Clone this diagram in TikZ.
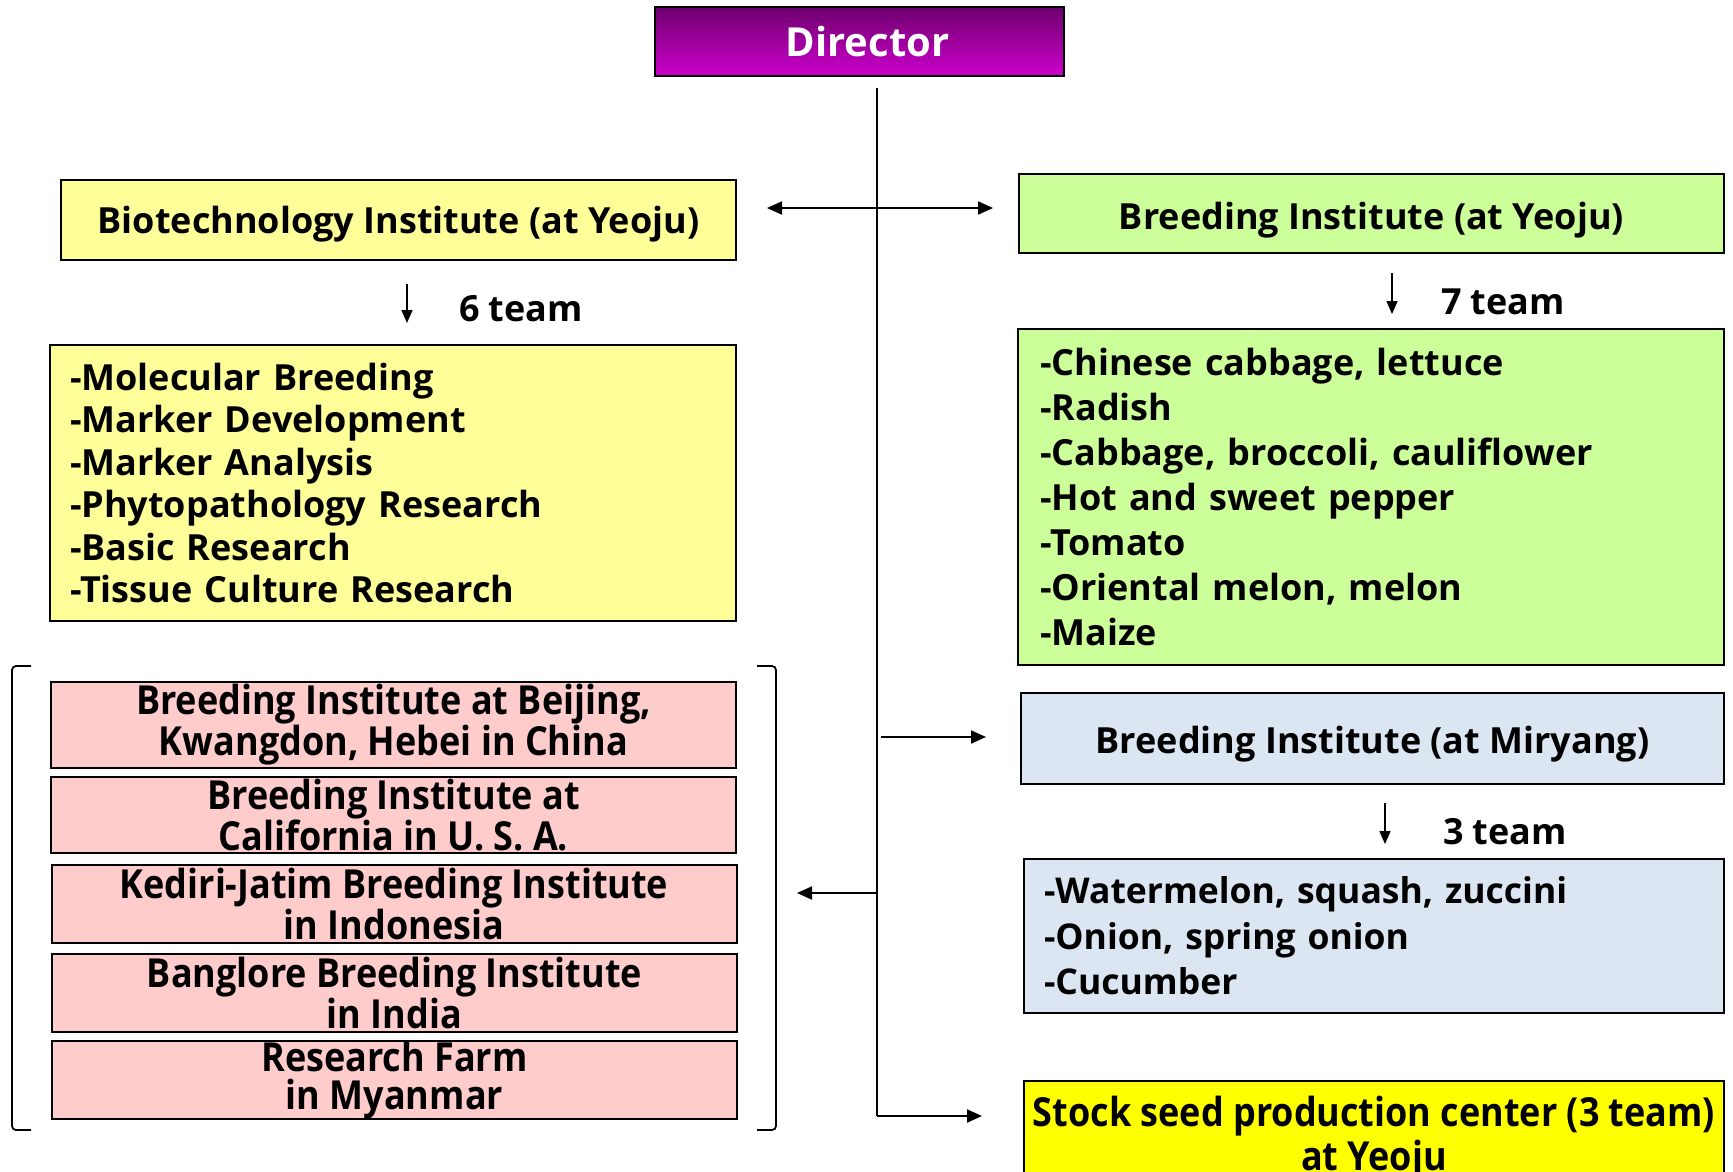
\documentclass[tikz,border=0pt]{standalone}
\usepackage{fontspec}
\setmainfont{Open Sans}[BoldFont={Open Sans Bold}]
\newfontfamily\condfont{Open Sans}[BoldFont={Open Sans Bold}, FakeStretch=0.9]
\usetikzlibrary{arrows.meta}
\definecolor{dirtop}{HTML}{6E006E}
\definecolor{dirbot}{HTML}{CC00CC}
\definecolor{yellowbox}{HTML}{FFFF99}
\definecolor{greenbox}{HTML}{CCFF99}
\definecolor{pinkbox}{HTML}{FFCCCC}
\definecolor{bluebox}{HTML}{DCE6F2}
\definecolor{stockbox}{HTML}{FFFF00}
\newcommand{\lowertext}[2]{\raisebox{0pt}[\dimexpr\height+#1pt\relax]{#2}}
\begin{document}
\begin{tikzpicture}[x=1pt,y=-1pt,
  box/.style={draw=black, line width=2pt, inner sep=0pt, anchor=center},
  title/.style={box, font=\fontsize{36}{42}\selectfont\bfseries},
  listbox/.style={box, align=left, font=\fontsize{36}{42.5}\selectfont\bfseries},
  pink/.style={box, fill=pinkbox, minimum width=685, align=center, font=\condfont\fontsize{40}{37.5}\selectfont\bfseries},
  team/.style={font=\fontsize{36}{42}\selectfont\bfseries, inner sep=0pt},
  conn/.style={line width=2pt, -{Triangle[length=15pt,width=13pt]}},
  small/.style={line width=1.6pt, -{Triangle[length=13pt,width=11pt]}},
  brk/.style={line width=1.8pt, rounded corners=4pt}
]
\useasboundingbox (0,0) rectangle (1733,1171);
\clip (0,0) rectangle (1733,1171);

% Director
\node[box, top color=dirtop, bottom color=dirbot, minimum width=409, minimum height=69,
      text=white, font=\fontsize{40}{44}\selectfont\bfseries] (dir) at (859.5,41.5) {\hspace{16pt}Director};

% Left column
\node[title, fill=yellowbox, minimum width=675, minimum height=80] (bio) at (398.5,220) {\lowertext{9}{Biotechnology Institute (at Yeoju)}};
\node[listbox, fill=yellowbox, minimum width=686, minimum height=276, text width=646] (biolist) at (393,483)
  {-Molecular Breeding\\-Marker Development\\-Marker Analysis\\-Phytopathology Research\\-Basic Research\\-Tissue Culture Research};
\coordinate (a6s) at (407,284);
\coordinate (a6e) at (407,323);
\draw[small] (a6s) -- (a6e);
\node[team] (t6) at (521,309) {6 team};

\node[pink, minimum height=86] (p1) at (393.5,725) {Breeding Institute at Beijing,\\ Kwangdon, Hebei in China};
\node[pink, minimum height=76] (p2) at (393.5,815) {Breeding Institute at\\California in U. S. A.};
\node[pink, minimum height=78] (p3) at (394,904) {Kediri-Jatim Breeding Institute\\in Indonesia};
\node[pink, minimum height=78] (p4) at (394.5,993) {Banglore Breeding Institute\\in India};
\node[pink, minimum height=76] (p5) at (394.5,1080) {Research Farm\\in Myanmar};

% brackets
\coordinate (lb1) at (31,666);
\coordinate (lb2) at (12,666);
\coordinate (lb3) at (12,1130);
\coordinate (lb4) at (31,1130);
\draw[brk] (lb1) -- (lb2) -- (lb3) -- (lb4);
\coordinate (rb1) at (757,666);
\coordinate (rb2) at (776,666);
\coordinate (rb3) at (776,1130);
\coordinate (rb4) at (757,1130);
\draw[brk] (rb1) -- (rb2) -- (rb3) -- (rb4);

% Right column
\node[title, fill=greenbox, minimum width=705, minimum height=79] (byeo) at (1371.5,213.5) {\lowertext{13}{Breeding Institute (at Yeoju)}};
\node[listbox, fill=greenbox, minimum width=706, minimum height=336, text width=662,
      font=\fontsize{36}{45}\selectfont\bfseries] (greenlist) at (1371,497)
  {-Chinese cabbage, lettuce\\-Radish\\-Cabbage, broccoli, cauliflower\\-Hot and sweet pepper\\-Tomato\\-Oriental melon, melon\\-Maize};
\coordinate (a7s) at (1392,273);
\coordinate (a7e) at (1392,314);
\draw[small] (a7s) -- (a7e);
\node[team] (t7) at (1503,302) {7 team};

\node[title, fill=bluebox, minimum width=703, minimum height=91] (bmir) at (1372.5,738.5) {\lowertext{11}{Breeding Institute (at Miryang)}};
\coordinate (a3s) at (1385,803);
\coordinate (a3e) at (1385,844);
\draw[small] (a3s) -- (a3e);
\node[team] (t3) at (1505,832) {3 team};
\node[listbox, fill=bluebox, minimum width=700, minimum height=154, text width=660,
      font=\fontsize{35.5}{45.5}\selectfont\bfseries] (bluelist) at (1374,936)
  {-Watermelon, squash, zuccini\\-Onion, spring onion\\-Cucumber};

\node[box, fill=stockbox, minimum width=700, minimum height=114, align=center,
      font=\condfont\fontsize{40}{44}\selectfont\bfseries] (stock) at (1374,1138)
  {Stock seed production center (3 team)\\at Yeoju};

% Trunk and connectors
\coordinate (trunktop) at (877,88);
\coordinate (trunkbot) at (877,1116);
\draw[line width=2pt] (trunktop) -- (trunkbot);
\coordinate (dl) at (767,208);
\coordinate (dr) at (993,208);
\draw[line width=2pt, {Triangle[length=15pt,width=13pt]}-{Triangle[length=15pt,width=13pt]}] (dl) -- (dr);
\coordinate (ms) at (881,737);
\coordinate (me) at (986,737);
\draw[conn] (ms) -- (me);
\coordinate (ps) at (877,893);
\coordinate (pe) at (797,893);
\draw[conn] (ps) -- (pe);
\coordinate (se) at (982,1116);
\draw[conn] (trunkbot) -- (se);
\end{tikzpicture}
\end{document}
